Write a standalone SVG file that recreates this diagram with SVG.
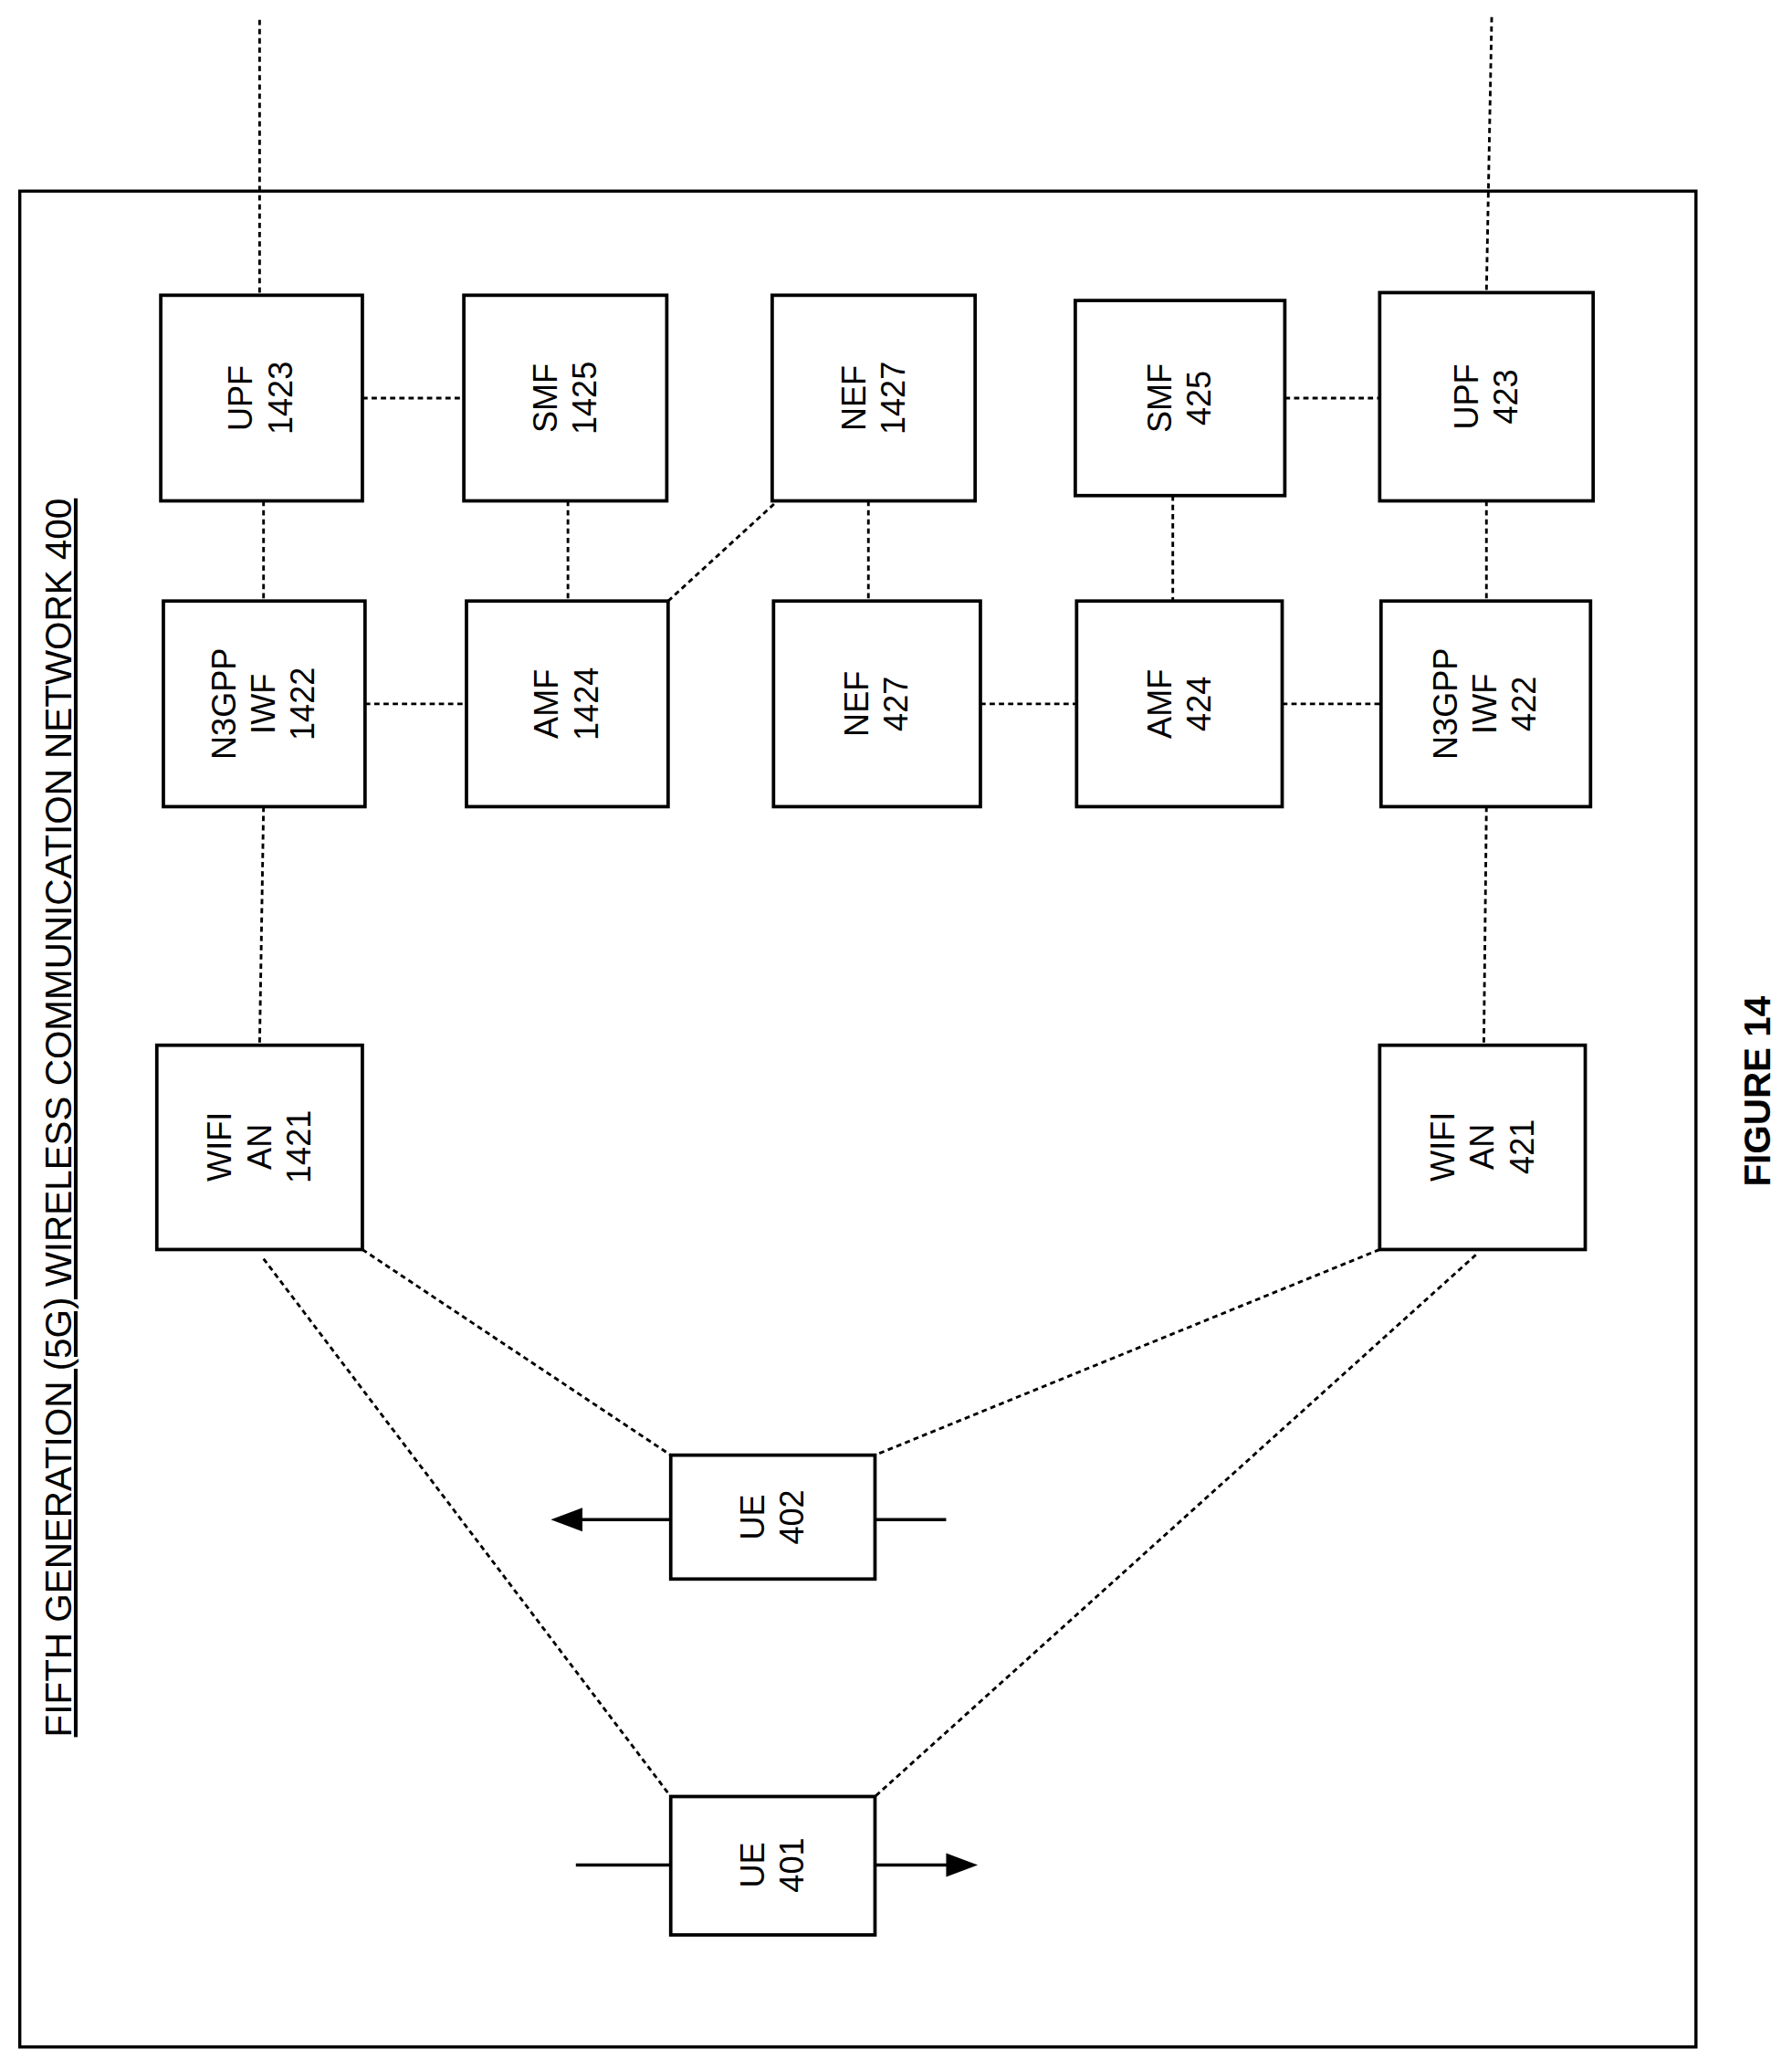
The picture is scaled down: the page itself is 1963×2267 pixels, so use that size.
<svg xmlns="http://www.w3.org/2000/svg" width="1963" height="2267" viewBox="0 0 1963 2267">
<style>
.b{fill:#fff;stroke:#000;stroke-width:2.6}
.t{font-family:"Liberation Sans",Arial,sans-serif;font-size:25px;text-anchor:middle}
.d{stroke:#000;stroke-width:2;stroke-dasharray:4 3;fill:none}
.s{stroke:#000;stroke-width:2.4;fill:none}
</style>
<rect width="1963" height="2267" fill="#fff"/>
<g transform="scale(1.4435)">
<rect x="15" y="145" width="1272" height="1408" class="s" stroke-width="2.8"/>
<g id="connectors">
<line class="d" x1="197" y1="15" x2="197" y2="224"/>
<line class="d" x1="1132" y1="13" x2="1128" y2="222"/>
<line class="d" x1="275" y1="302" x2="352" y2="302"/>
<line class="d" x1="975" y1="302" x2="1047" y2="302"/>
<line class="d" x1="200" y1="380" x2="200" y2="456"/>
<line class="d" x1="431" y1="380" x2="431" y2="456"/>
<line class="d" x1="659" y1="380" x2="659" y2="456"/>
<line class="d" x1="890" y1="376" x2="890" y2="456"/>
<line class="d" x1="1128" y1="380" x2="1128" y2="456"/>
<line class="d" x1="507" y1="456" x2="590" y2="380"/>
<line class="d" x1="277" y1="534" x2="354" y2="534"/>
<line class="d" x1="744" y1="534" x2="817" y2="534"/>
<line class="d" x1="973" y1="534" x2="1048" y2="534"/>
<line class="d" x1="200" y1="612" x2="197" y2="793"/>
<line class="d" x1="1128" y1="612" x2="1126" y2="793"/>
<line class="d" x1="275" y1="948" x2="509" y2="1104"/>
<line class="d" x1="200" y1="955" x2="509" y2="1363"/>
<line class="d" x1="1047" y1="948" x2="664" y2="1104"/>
<line class="d" x1="1120" y1="952" x2="664" y2="1363"/>
<line class="s" x1="509" y1="1153" x2="440" y2="1153"/>
<path d="M418,1153 L442,1144 L442,1162 Z"/>
<line class="s" x1="664" y1="1153" x2="718" y2="1153"/>
<line class="s" x1="437" y1="1415" x2="509" y2="1415"/>
<line class="s" x1="664" y1="1415" x2="720" y2="1415"/>
<path d="M742,1415 L718,1406 L718,1424 Z"/>
</g>
<g id="upf1423"><rect class="b" x="122" y="224" width="153" height="156"/><text class="t" transform="translate(198,302) rotate(-90)"><tspan x="0" y="-6.5">UPF</tspan><tspan x="0" y="23.5">1423</tspan></text></g>
<g id="smf1425"><rect class="b" x="352" y="224" width="154" height="156"/><text class="t" transform="translate(429,302) rotate(-90)"><tspan x="0" y="-6.5">SMF</tspan><tspan x="0" y="23.5">1425</tspan></text></g>
<g id="nef1427"><rect class="b" x="586" y="224" width="154" height="156"/><text class="t" transform="translate(663,302) rotate(-90)"><tspan x="0" y="-6.5">NEF</tspan><tspan x="0" y="23.5">1427</tspan></text></g>
<g id="smf425"><rect class="b" x="816" y="228" width="159" height="148"/><text class="t" transform="translate(895,302) rotate(-90)"><tspan x="0" y="-6.5">SMF</tspan><tspan x="0" y="23.5">425</tspan></text></g>
<g id="upf423"><rect class="b" x="1047" y="222" width="162" height="158"/><text class="t" transform="translate(1128,301) rotate(-90)"><tspan x="0" y="-6.5">UPF</tspan><tspan x="0" y="23.5">423</tspan></text></g>
<g id="iwf1422"><rect class="b" x="124" y="456" width="153" height="156"/><text class="t" transform="translate(200,534) rotate(-90)"><tspan x="0" y="-21.5">N3GPP</tspan><tspan x="0" y="8.5">IWF</tspan><tspan x="0" y="38.5">1422</tspan></text></g>
<g id="amf1424"><rect class="b" x="354" y="456" width="153" height="156"/><text class="t" transform="translate(430,534) rotate(-90)"><tspan x="0" y="-6.5">AMF</tspan><tspan x="0" y="23.5">1424</tspan></text></g>
<g id="nef427"><rect class="b" x="587" y="456" width="157" height="156"/><text class="t" transform="translate(665,534) rotate(-90)"><tspan x="0" y="-6.5">NEF</tspan><tspan x="0" y="23.5">427</tspan></text></g>
<g id="amf424"><rect class="b" x="817" y="456" width="156" height="156"/><text class="t" transform="translate(895,534) rotate(-90)"><tspan x="0" y="-6.5">AMF</tspan><tspan x="0" y="23.5">424</tspan></text></g>
<g id="iwf422"><rect class="b" x="1048" y="456" width="159" height="156"/><text class="t" transform="translate(1127,534) rotate(-90)"><tspan x="0" y="-21.5">N3GPP</tspan><tspan x="0" y="8.5">IWF</tspan><tspan x="0" y="38.5">422</tspan></text></g>
<g id="wifi1421"><rect class="b" x="119" y="793" width="156" height="155"/><text class="t" transform="translate(197,870) rotate(-90)"><tspan x="0" y="-21.5">WIFI</tspan><tspan x="0" y="8.5">AN</tspan><tspan x="0" y="38.5">1421</tspan></text></g>
<g id="wifi421"><rect class="b" x="1047" y="793" width="156" height="155"/><text class="t" transform="translate(1125,870) rotate(-90)"><tspan x="0" y="-21.5">WIFI</tspan><tspan x="0" y="8.5">AN</tspan><tspan x="0" y="38.5">421</tspan></text></g>
<g id="ue402"><rect class="b" x="509" y="1104" width="155" height="94"/><text class="t" transform="translate(586,1151) rotate(-90)"><tspan x="0" y="-6.5">UE</tspan><tspan x="0" y="23.5">402</tspan></text></g>
<g id="ue401"><rect class="b" x="509" y="1363" width="155" height="105"/><text class="t" transform="translate(586,1415) rotate(-90)"><tspan x="0" y="-6.5">UE</tspan><tspan x="0" y="23.5">401</tspan></text></g>
<g id="title"><text transform="translate(54,848) rotate(-90)" font-family="Liberation Sans,Arial,sans-serif" font-size="28" text-anchor="middle" text-decoration="underline">FIFTH GENERATION (5G) WIRELESS COMMUNICATION NETWORK 400</text></g>
<g id="figure"><text transform="translate(1343,828) rotate(-90)" font-family="Liberation Sans,Arial,sans-serif" font-size="28" font-weight="bold" text-anchor="middle">FIGURE 14</text></g>
</g>
</svg>
